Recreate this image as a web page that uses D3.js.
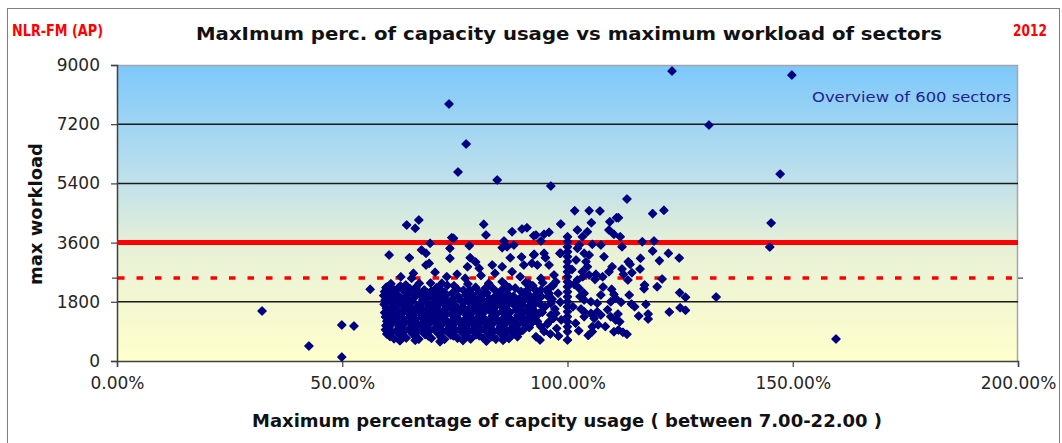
<!DOCTYPE html>
<html><head><meta charset="utf-8">
<script src="https://cdn.jsdelivr.net/npm/d3@7"></script>
<style>
html,body{margin:0;padding:0;background:#fff;}
svg{display:block;font-family:"DejaVu Sans",sans-serif;}
</style></head>
<body><svg id="c" width="1062" height="443"></svg>
<script>
// ---------------- DATA ----------------
const xTicks = [0, 50, 100, 150, 200];           // capacity usage (%)
const yTicks = [0, 1800, 3600, 5400, 7200, 9000]; // workload
const gridValues = [1800, 5400, 7200];
const thresholdValue = 3600;      // solid red line
const warningValue = 2520;        // dashed red line (70%)

// isolated sectors
const outliers = [
  [32.2,1520],[42.6,456],[49.9,1094],[52.6,1064],[49.9,120],[56.2,2180],
  [73.7,7813],[77.5,6597],[75.7,5746],[84.4,5502],[96.3,5320],
  [123.2,8816],[131.4,7174],[149.8,8694],[147.2,5685],[145.2,4195],
  [144.9,3466],[133.0,1946],[159.6,669],[113.2,4925]
];
// upper part of the main cloud (above ~2400)
const upperScatter = [
  [64.3,4134],[66.2,4034],[67.0,4286],[69.5,3578],[74.3,3749],[60.4,3222],[64.9,3140],
  [67.6,3374],[68.6,3274],[73.9,3122],[73.9,3426],[68.6,2918],[69.3,2970],[65.8,2666],
  [65.4,2514],[67.1,2362],[70.6,2697],[73.2,2563],[72.1,2362],[60.0,2259],[62.5,2228],
  [81.4,4156],[81.9,3830],[74.7,3730],[87.7,3931],[89.9,4013],[91.0,4052],[92.5,3810],
  [85.9,3648],[85.5,3445],[86.6,3475],[88.1,3527],[78.2,3505],[78.4,3140],[87.3,3140],
  [89.8,3162],[92.5,3222],[77.8,2867],[80.4,2818],[83.3,2918],[83.9,2666],[85.5,2867],
  [90.3,2918],[92.1,2970],[87.7,2715],[89.5,2563],[77.3,2514],[82.5,2362],[85.5,2411],
  [91.4,2362],[63.0,2560],[75.5,2640],[80.8,2600],[79.6,3010]
];
// dense core of the cloud
const coreCloud = [
  [60.8,2350],[64.1,2310],[69.6,2370],[74.8,2290],[77.9,2340],[86.2,2320],[90.7,2380],
  [59.7,2230],[62.9,2280],[66.4,2250],[71.5,2210],[73.3,2300],[79.6,2240],[83.0,2270],[88.4,2215],[92.3,2290],
  [61.4,2170],[65.0,2200],[68.2,2160],[70.9,2225],[75.6,2180],[78.3,2150],[81.7,2205],[85.5,2170],[87.1,2230],[91.1,2160],
  [59.4,2110],[63.6,2140],[67.1,2090],[69.8,2130],[72.6,2100],[76.9,2150],[80.4,2085],[84.0,2135],[89.7,2110],[93.0,2140],
  [60.6,2060],[62.2,2020],[65.9,2045],[68.9,2075],[71.1,2030],[74.4,2060],[78.9,2015],[82.1,2070],[86.7,2040],[90.2,2065],
  [59.2,1990],[61.9,1960],[64.4,2005],[67.6,1970],[70.2,1945],[73.0,1995],[75.8,1960],[77.4,2010],[80.9,1975],[83.8,1950],[85.0,2000],[88.0,1970],[91.6,1990],
  [60.3,1915],[63.2,1895],[66.0,1935],[69.0,1905],[71.8,1940],[74.6,1890],[79.2,1925],[82.7,1900],[86.4,1930],[89.3,1890],[92.6,1925],
  [59.5,1850],[61.6,1880],[64.8,1840],[67.9,1865],[70.6,1830],[72.9,1870],[76.3,1845],[78.0,1885],[81.2,1835],[84.6,1870],[87.5,1845],[90.5,1860],[93.3,1830],
  [60.7,1795],[63.0,1770],[65.6,1810],[68.6,1780],[71.4,1760],[74.0,1805],[77.0,1775],[80.1,1800],[83.1,1765],[85.9,1810],[88.8,1780],[91.9,1800],
  [59.3,1720],[62.4,1745],[64.1,1705],[67.2,1735],[69.9,1715],[72.4,1750],[75.1,1700],[78.6,1730],[81.9,1745],[84.2,1710],[86.9,1740],[89.9,1705],[92.8,1730],
  [61.1,1655],[63.8,1680],[66.6,1645],[69.3,1670],[71.0,1640],[73.7,1685],[76.7,1650],[79.5,1675],[82.4,1640],[85.3,1665],[88.2,1690],[91.3,1650],
  [59.8,1600],[62.1,1575],[65.2,1610],[67.8,1585],[70.5,1620],[72.8,1570],[75.5,1605],[78.1,1580],[80.8,1615],[83.6,1590],[86.6,1570],[89.5,1600],[92.2,1585],
  [60.9,1525],[63.4,1550],[66.3,1515],[69.1,1540],[71.7,1510],[74.6,1545],[77.3,1520],[80.0,1550],[82.9,1510],[85.7,1535],[88.6,1555],[91.0,1520],
  [59.4,1470],[62.0,1445],[64.6,1480],[67.4,1455],[70.1,1490],[73.2,1440],[76.0,1475],[78.8,1455],[81.5,1485],[84.3,1445],[87.2,1470],[90.1,1450],[92.9,1480],
  [60.5,1395],[63.1,1420],[65.8,1385],[68.7,1410],[71.4,1380],[74.3,1415],[77.6,1390],[80.6,1420],[83.4,1385],[86.1,1405],[89.0,1390],[91.7,1415],
  [59.6,1340],[61.8,1315],[64.9,1350],[67.6,1325],[70.3,1355],[72.5,1310],[75.3,1345],[78.4,1320],[81.1,1350],[84.0,1315],[86.9,1340],[89.8,1325],[92.5,1345],
  [60.8,1265],[63.5,1290],[66.1,1255],[69.0,1280],[71.9,1250],[74.8,1285],[77.2,1260],[79.9,1290],[82.6,1255],[85.6,1275],[88.4,1250],[91.1,1280],
  [59.9,1210],[62.3,1185],[65.3,1220],[68.1,1195],[70.8,1225],[73.5,1180],[76.2,1215],[79.1,1190],[81.8,1220],[84.8,1185],[87.6,1210],[90.4,1195],[93.2,1220],
  [61.0,1135],[63.9,1160],[66.8,1125],[69.5,1150],[72.2,1120],[75.0,1155],[77.9,1130],[80.7,1160],[83.3,1125],[86.2,1145],[89.1,1120],[92.0,1150],
  [59.7,1080],[62.6,1055],[65.5,1090],[68.3,1065],[71.2,1095],[73.9,1050],[76.6,1085],[79.4,1060],[82.2,1090],[85.1,1055],[87.9,1080],[90.8,1065],
  [60.4,1005],[63.2,1030],[66.0,995],[68.8,1020],[71.6,990],[74.5,1025],[77.5,1000],[80.3,1030],[83.0,995],[85.9,1015],[88.7,990],[91.5,1020],
  [59.6,950],[62.0,925],[64.7,960],[67.5,935],[70.4,965],[73.1,920],[76.0,955],[78.9,930],[81.6,960],[84.5,925],[87.3,950],[90.1,935],
  [60.9,875],[63.7,900],[66.5,865],[69.2,890],[72.0,860],[74.9,895],[77.8,870],[80.5,900],[83.4,865],[86.3,885],[89.2,860],
  [59.9,820],[62.8,795],[65.6,830],[68.4,805],[71.3,835],[74.1,790],[76.9,825],[79.7,800],[82.5,830],[85.4,795],[88.1,820],
  [60.6,745],[63.4,770],[66.3,735],[69.1,760],[71.9,730],[74.7,765],[77.6,740],[80.4,770],[83.2,735],[86.0,755],[88.9,740],
  [61.5,680],[64.2,700],[67.0,665],[69.8,690],[72.7,660],[75.6,695],[78.5,670],[81.3,700],[84.1,665],[87.0,685],
  [62.8,615],[66.2,630],[71.7,590],[76.8,625],[82.0,605],[85.7,630]
];
// sectors between 93% and 100%
const nearFull = [
  [94.5,2380],[96.8,2290],[95.3,2150],[97.9,2060],[94.2,1960],[96.6,1880],[98.4,1790],[95.0,1650],
  [97.2,1580],[94.4,1480],[96.9,1300],[98.6,1250],[95.5,1120],[97.6,990],[94.8,900],[96.2,820],
  [98.0,760],[93.9,640],[95.7,1960],[97.4,1450],[98.5,4165],[95.9,3913],[94.8,3852],[93.0,3830],
  [94.1,3648],[92.6,3243],[94.8,3274],[95.1,3140],[98.5,3274],[95.9,2918],[93.3,2918],[97.0,2614],
  [97.4,2411],[94.1,2514],[96.3,2259],[94.1,2158],[93.0,2006],[95.9,2057],[94.1,1703],[96.3,1754],
  [93.7,1447],[93.3,1195],[94.1,1043],[93.0,739],[96.3,1398],[95.9,1195],[98.3,3274]
];
// sectors at exactly 100%
const column100 = [3779,3627,3475,3323,3172,3020,2867,2715,2563,2411,2259,2107,1955,1803,1651,1499,1347,1195,1043,891,638];
// sectors above 100%
const overFull = [
  [101.6,4570],[104.8,4570],[107.2,4560],[105.3,4205],[109.4,4235],[110.9,4357],[102.2,3983],
  [104.4,3931],[103.3,3779],[109.2,3983],[110.3,3852],[105.5,3548],[107.4,3527],[102.2,3426],
  [102.6,3527],[103.7,3274],[104.8,3222],[108.1,3172],[101.9,3071],[104.1,3020],[104.4,2867],
  [109.9,2867],[109.2,2715],[103.3,2715],[104.8,2614],[106.3,2635],[107.8,2563],[102.2,2463],
  [102.6,2209],[103.7,2057],[110.3,2027],[107.4,2006],[103.7,1855],[105.2,1803],[106.6,1754],
  [109.6,1803],[110.7,1906],[103.7,1499],[105.2,1447],[106.6,1499],[107.4,1398],[103.7,1347],
  [105.9,1296],[109.6,1347],[110.7,1246],[110.3,891],[105.5,1043],[105.5,891],[101.5,2330],
  [102.8,1960],[101.2,1650],[103.0,1580],[101.8,1150],[102.5,920],[104.6,780],[106.8,1100],
  [108.9,1560],[107.9,2250],[109.8,2180],[106.1,2480],[103.4,2560],[101.0,2780],[108.4,1050],
  [118.9,4480],[121.4,4582],[111.3,4357],[116.6,3627],[119.2,3648],[118.9,3344],[122.4,3274],
  [124.8,3131],[120.4,3050],[116.2,3122],[113.5,3019],[113.9,2940],[116.1,2797],[114.3,2685],
  [112.1,2797],[112.4,2636],[113.4,2463],[121.0,2493],[119.9,2259],[117.1,2311],[117.0,2198],
  [124.9,2077],[126.2,1937],[113.7,2007],[111.9,1785],[114.2,1733],[114.9,1651],[117.4,1724],
  [125.0,1620],[126.2,1541],[122.6,1490],[117.9,1429],[117.9,1277],[115.8,1368],[111.2,1429],
  [111.6,1195],[111.3,943],[112.3,873],[113.2,812],[111.7,3779],[112.1,3475]
];

const sectors = [].concat(
  outliers, upperScatter, coreCloud, nearFull,
  column100.map(w => [100, w]), overFull
);

// ---------------- DRAW ----------------
const svg = d3.select("#c");
const x = d3.scaleLinear().domain([0, 200]).range([117, 1018]);
const y = d3.scaleLinear().domain([0, 9000]).range([361, 65]);

// outer frame
svg.append("rect").attr("x", 7.5).attr("y", 8.5).attr("width", 1052).attr("height", 445)
  .attr("fill", "#fff").attr("stroke", "#7f7f7f").attr("stroke-width", 1);

// gradient plot background
const defs = svg.append("defs");
const g = defs.append("linearGradient").attr("id", "bg").attr("x1", 0).attr("y1", 0).attr("x2", 0).attr("y2", 1);
g.append("stop").attr("offset", "0%").attr("stop-color", "#7cc8fb");
g.append("stop").attr("offset", "40%").attr("stop-color", "#c1e1ea");
g.append("stop").attr("offset", "62%").attr("stop-color", "#e8f1d6");
g.append("stop").attr("offset", "100%").attr("stop-color", "#ffffcc");
svg.append("rect").attr("x", x(0)).attr("y", y(9000)).attr("width", x(200) - x(0)).attr("height", y(0) - y(9000))
  .attr("fill", "url(#bg)");

// plot border (top/right light gray)
svg.append("path").attr("d", `M${x(0)},${y(9000)+0.5}H${x(200)-0.5}V${y(0)}`)
  .attr("fill", "none").attr("stroke", "#a6a6a6").attr("stroke-width", 1.5);

// gridlines
svg.selectAll("line.grid").data(gridValues).join("line").attr("class", "grid")
  .attr("x1", x(0)).attr("x2", x(200)).attr("y1", d => y(d)).attr("y2", d => y(d))
  .attr("stroke", "#1a1a1a").attr("stroke-width", 1.5);

// axes
const yAxis = d3.axisLeft(y).tickValues(yTicks).tickSize(6).tickPadding(11).tickFormat(d3.format("d"));
const ya = svg.append("g").attr("transform", `translate(${x(0)},0)`).call(yAxis);
const xAxis = d3.axisBottom(x).tickValues(xTicks).tickSize(6).tickPadding(10).tickFormat(d => d.toFixed(2) + "%");
const xa = svg.append("g").attr("transform", `translate(0,${y(0)})`).call(xAxis);
[ya, xa].forEach(a => {
  a.select(".domain").attr("stroke", "#404040").attr("stroke-width", 1.5);
  a.selectAll(".tick line").attr("stroke", "#404040").attr("stroke-width", 1.2);
  a.selectAll("text").attr("font-size", 17).attr("fill", "#262626")
    .attr("font-family", "'DejaVu Sans',sans-serif");
});

// threshold lines
svg.append("line").attr("x1", x(0)).attr("x2", x(200)).attr("y1", y(thresholdValue)).attr("y2", y(thresholdValue))
  .attr("stroke", "#ff0000").attr("stroke-width", 5);
svg.append("line").attr("x1", x(0) + 1).attr("x2", x(200) - 6).attr("y1", y(warningValue)).attr("y2", y(warningValue))
  .attr("stroke", "#ff0000").attr("stroke-width", 3.5).attr("stroke-dasharray", "6.5,12");
// small ticks at the warning level on both sides
svg.append("line").attr("x1", x(0) - 5).attr("x2", x(0)).attr("y1", y(warningValue)).attr("y2", y(warningValue))
  .attr("stroke", "#404040").attr("stroke-width", 1.2);
svg.append("line").attr("x1", x(200)).attr("x2", x(200) + 5).attr("y1", y(warningValue)).attr("y2", y(warningValue))
  .attr("stroke", "#404040").attr("stroke-width", 1.2);

// markers
const diamond = d3.symbol().type(d3.symbolSquare).size(34);
svg.append("g").selectAll("path").data(sectors).join("path")
  .attr("d", diamond)
  .attr("transform", d => `translate(${x(d[0])},${y(d[1])}) rotate(45)`)
  .attr("fill", "#000080").attr("stroke", "#000080").attr("stroke-width", 1.2).attr("stroke-linejoin", "round");

// texts
svg.append("text").attr("x", 12).attr("y", 36).attr("font-size", 16).attr("font-weight", "bold")
  .attr("fill", "#ff0000").attr("textLength", 91).attr("lengthAdjust", "spacingAndGlyphs").text("NLR-FM (AP)");
svg.append("text").attr("x", 1047).attr("y", 36).attr("font-size", 16).attr("font-weight", "bold")
  .attr("fill", "#ff0000").attr("text-anchor", "end").attr("textLength", 34).attr("lengthAdjust", "spacingAndGlyphs").text("2012");
svg.append("text").attr("x", 196).attr("y", 40).attr("font-size", 18).attr("font-weight", "bold")
  .attr("fill", "#111").attr("textLength", 746).attr("lengthAdjust", "spacingAndGlyphs")
  .text("MaxImum perc. of capacity usage vs maximum workload of sectors");
svg.append("text").attr("x", 1011).attr("y", 102).attr("font-size", 14)
  .attr("fill", "#1f1f8f").attr("text-anchor", "end").attr("textLength", 199).attr("lengthAdjust", "spacingAndGlyphs")
  .text("Overview of 600 sectors");
svg.append("text").attr("x", 252).attr("y", 427).attr("font-size", 18).attr("font-weight", "bold")
  .attr("fill", "#111").attr("textLength", 630).attr("lengthAdjust", "spacingAndGlyphs")
  .text("Maximum percentage of capcity usage ( between 7.00-22.00 )");
svg.append("text").attr("transform", "translate(42,214) rotate(-90)").attr("text-anchor", "middle")
  .attr("font-size", 18).attr("font-weight", "bold").attr("fill", "#111")
  .attr("textLength", 142).attr("lengthAdjust", "spacingAndGlyphs")
  .text("max workload");
</script></body></html>
